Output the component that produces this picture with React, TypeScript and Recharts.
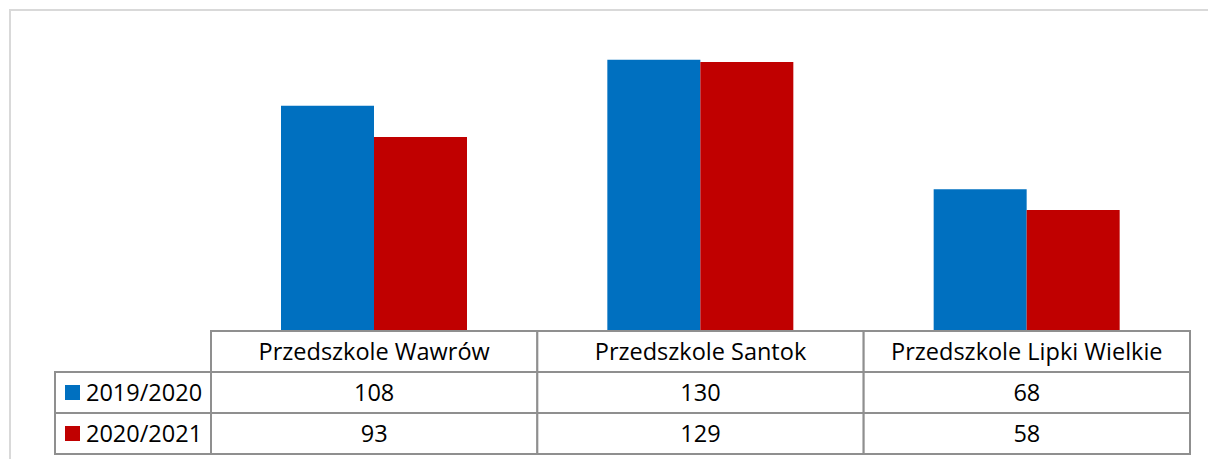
import { Bar, BarChart, XAxis, YAxis } from "recharts"

const categories = ["Przedszkole Wawrów", "Przedszkole Santok", "Przedszkole Lipki Wielkie"]
const seriesNames = ["2019/2020", "2020/2021"]
const values2019 = [108, 130, 68]
const values2020 = [93, 129, 58]
const colors = ["#0070C0", "#C00000"]

const data = categories.map((name, i) => ({
  name,
  a: values2019[i],
  b: values2020[i],
}))

const W = 1208
const H = 459
const LEFT = 211
const RIGHT = 18
const TOP = 39
const ROW = 41
const FONT = "'Open Sans', sans-serif"
const FS = 23.5
const GRID = "#8f8f8f"
const colW = (W - LEFT - RIGHT) / categories.length

function TableTick(props: any) {
  const { x, y, index, payload } = props
  const left = x - colW / 2
  const rows = [payload.value, String(values2019[index]), String(values2020[index])]
  return (
    <g>
      {rows.map((t, r) => (
        <g key={r}>
          <rect x={left} y={y + r * ROW} width={colW} height={ROW} fill="#fff" stroke={GRID} strokeWidth={2} />
          <text x={x} y={y + r * ROW + 29} textAnchor="middle" fontSize={FS} fontFamily={FONT} fill="#000">
            {t}
          </text>
        </g>
      ))}
    </g>
  )
}

export default function App() {
  return (
    <div style={{ position: "absolute", left: 0, top: 0, width: W, height: H, background: "#fff" }}>
      <div style={{ position: "absolute", left: 9, top: 9, width: W, height: H, borderTop: "2px solid #d9d9d9", borderLeft: "2px solid #d9d9d9" }} />
      <BarChart width={W} height={H} data={data} margin={{ top: TOP, right: RIGHT, bottom: 5, left: LEFT }} barGap={0} barSize={93}>
        <YAxis hide domain={[0, 140]} />
        <XAxis
          dataKey="name"
          height={3 * ROW}
          axisLine={false}
          tickLine={false}
          tickSize={0}
          tickMargin={0}
          interval={0}
          tick={<TableTick />}
        />
        <Bar dataKey="a" fill={colors[0]} isAnimationActive={false} />
        <Bar dataKey="b" fill={colors[1]} isAnimationActive={false} />
      </BarChart>
      <svg style={{ position: "absolute", left: 0, top: 0 }} width={W} height={H}>
        {seriesNames.map((s, r) => (
          <g key={s}>
            <rect x={55} y={H - 5 - (2 - r) * ROW} width={LEFT - 55} height={ROW} fill="#fff" stroke={GRID} strokeWidth={2} />
            <rect x={65} y={H - 5 - (2 - r) * ROW + 13} width={15} height={15} fill={colors[r]} />
            <text x={86} y={H - 5 - (2 - r) * ROW + 29} fontSize={FS} fontFamily={FONT} fill="#000">
              {s}
            </text>
          </g>
        ))}
      </svg>
    </div>
  )
}
